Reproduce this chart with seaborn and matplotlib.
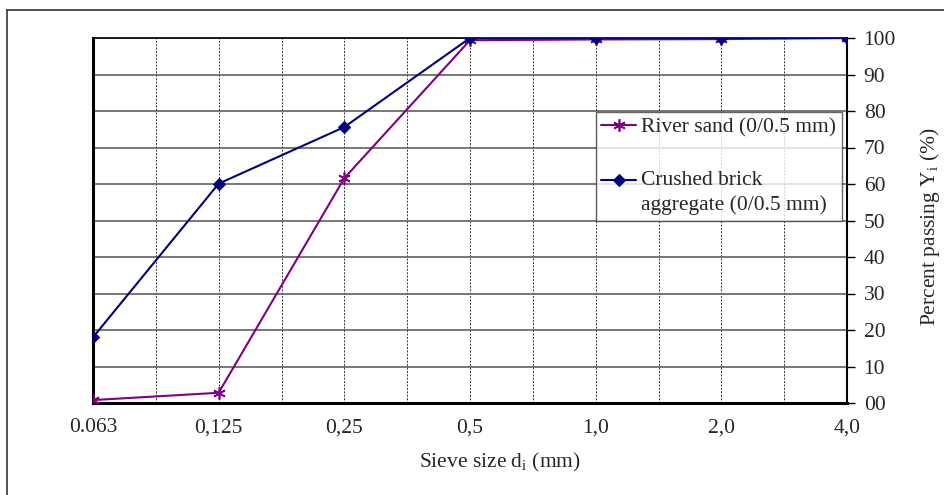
import matplotlib
matplotlib.use("Agg")
import matplotlib.pyplot as plt
import seaborn as sns
import numpy as np
import pandas as pd
from matplotlib.lines import Line2D

# Data
sieve_labels = ["0.063", "0,125", "0,25", "0,5", "1,0", "2,0", "4,0"]
river_sand = [0.8, 2.8, 61.6, 99.4, 99.6, 99.7, 100.0]
crushed_brick = [18.0, 60.1, 75.6, 100.0, 100.0, 100.0, 100.0]
y_ticks = [0, 10, 20, 30, 40, 50, 60, 70, 80, 90, 100]
y_tick_labels = ["00", "10", "20", "30", "40", "50", "60", "70", "80", "90", "100"]

sns.set_style("white")
plt.rcParams['font.family'] = ['Liberation Serif', 'DejaVu Serif']
plt.rcParams['mathtext.fontset'] = 'custom'
plt.rcParams['mathtext.rm'] = 'Liberation Serif'
plt.rcParams['mathtext.it'] = 'Liberation Serif'

FS = 15.5

fig = plt.figure(figsize=(9.44, 4.95), dpi=100)
ax = fig.add_axes([93/944, 1-403/495, (847-93)/944, (403-38)/495])

xpos = np.arange(len(sieve_labels))
df = pd.DataFrame({"x": xpos, "river": river_sand, "brick": crushed_brick})

sns.lineplot(data=df, x="x", y="river", ax=ax, color="#800080", lw=1.5,
             marker=(6, 2, 0), markersize=9, markeredgewidth=1.2,
             markeredgecolor="#800080", label="River sand (0/0.5 mm)", zorder=3)
sns.lineplot(data=df, x="x", y="brick", ax=ax, color="#000080", lw=1.5,
             marker="D", markersize=6, markeredgecolor="#000080",
             label="Crushed brick\naggregate (0/0.5 mm)", zorder=4)

ax.set_xlim(0, len(sieve_labels) - 1)
ax.set_ylim(0, 100)
ax.set_xticks(xpos)
ax.set_xticklabels(sieve_labels)
ax.set_xticks(np.arange(0.5, len(sieve_labels) - 1, 1.0), minor=True)

ax.yaxis.tick_right()
ax.set_yticks(y_ticks)
ax.set_yticklabels(y_tick_labels)

ax.tick_params(axis="x", which="major", direction="out", length=5, width=1,
               labelsize=FS, pad=6, color="black")
ax.tick_params(axis="x", which="minor", length=0)
ax.tick_params(axis="y", which="major", direction="out", length=6, width=1,
               labelsize=FS, pad=6, color="black", left=False, right=True)

# grids
ax.grid(False)
ax.yaxis.grid(True, which="major", color="#606060", lw=1.2, ls="-")
ax.xaxis.grid(True, which="both", color="#333333", lw=0.7, ls=(0, (2, 1.5)))
ax.set_axisbelow(True)

for s in ["left", "bottom"]:
    ax.spines[s].set_linewidth(2.2)
    ax.spines[s].set_color("black")
ax.spines["right"].set_linewidth(1.5)
ax.spines["right"].set_color("black")
ax.spines["top"].set_linewidth(1.2)
ax.spines["top"].set_color("black")

ax.set_xlabel("")
ax.set_ylabel("")
fig.text(500/944, 1-462/495, "Sieve size d$_\\mathregular{i}$ (mm)", fontsize=FS,
         ha="center", va="center")
fig.text(930/944, 1-227/495, "Percent passing Y$_\\mathregular{i}$ (%)", fontsize=FS,
         ha="center", va="center", rotation=90)

leg = ax.legend(loc="upper left", bbox_to_anchor=((596-93)/754, (403-112)/365),
                borderaxespad=0, frameon=True, fancybox=False, fontsize=FS,
                handlelength=1.6, handletextpad=0.25, labelspacing=1.55,
                borderpad=0.25)
for t in leg.get_texts():
    t.set_linespacing(1.4)
# align the multi-line entry's handle with its first text line
h2 = leg.legend_handles[1]
h2.set_ydata(np.asarray(h2.get_ydata(), dtype=float) + 9.4)
leg.get_frame().set_edgecolor("#404040")
leg.get_frame().set_linewidth(1.0)

# outer frame (top and left edges)
fig.add_artist(Line2D([7/944, 1.0], [1-10/495, 1-10/495], color="#333333", lw=1.2,
                      transform=fig.transFigure))
fig.add_artist(Line2D([7/944, 7/944], [0, 1-10/495], color="#333333", lw=1.2,
                      transform=fig.transFigure))

fig.savefig("out.png", dpi=100)
